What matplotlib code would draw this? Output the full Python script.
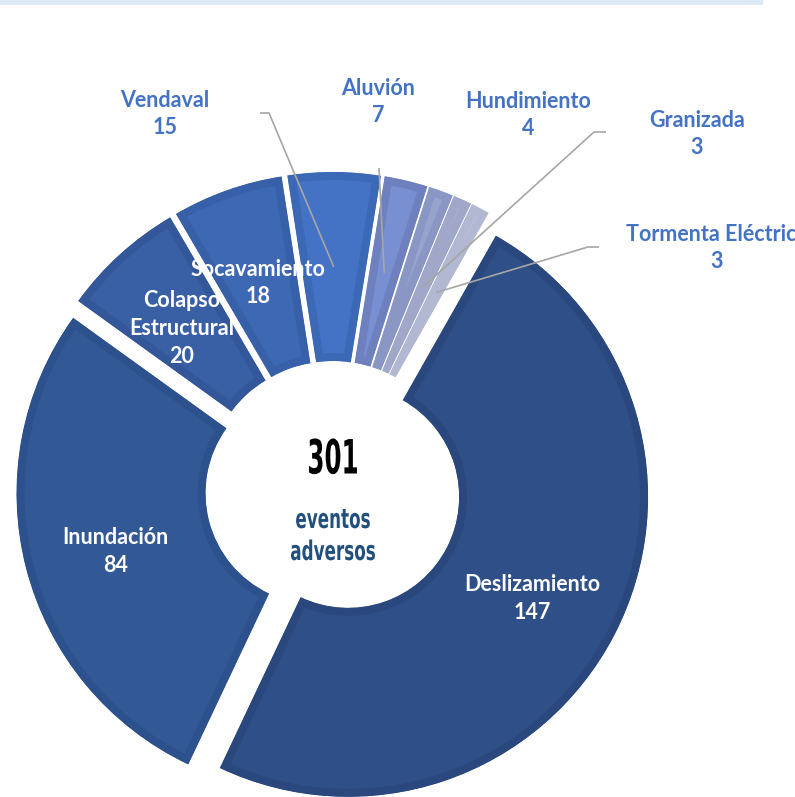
import matplotlib
matplotlib.use("Agg")
import matplotlib.pyplot as plt
import numpy as np
from matplotlib.patches import Rectangle
from matplotlib.patheffects import AbstractPathEffect
from matplotlib.transforms import Affine2D

categories = ["Deslizamiento", "Inundación", "Colapso\nEstructural", "Socavamiento",
              "Vendaval", "Aluvión", "Hundimiento", "Granizada", "Tormenta Eléctrica"]
values = [147, 84, 20, 18, 15, 7, 4, 3, 3]
total_label = "301"
center_caption = "eventos\nadversos"

fill_colors = ["#2E4F87", "#325896", "#3960A5", "#3D68B4", "#4472C4",
               "#788FD2", "#96A3CD", "#A5ACCD", "#B9BED7"]
edge_colors = ["#2A487D", "#2D518C", "#335799", "#3760A8", "#3C69B6",
               "#6E80BE", "#8A96C3", "#A0A7C8", "#B3B8D2"]

W, H = 795, 797
fig = plt.figure(figsize=(W / 100, H / 100), dpi=100)
ax = fig.add_axes([0, 0, 1, 1])

def Y(y):  # image row -> data y
    return H - y

CX, CY = 333, Y(489)
R = 300
ring = 189
expl = 17

wedges, _ = ax.pie(values, radius=R, center=(CX, CY), startangle=60.5,
                   counterclock=False, explode=[expl] * len(values),
                   colors=fill_colors, frame=True,
                   wedgeprops=dict(width=ring))
ax.set_xlim(0, W)
ax.set_ylim(0, H)
ax.set_aspect("equal")
ax.axis("off")

# top light band
ax.add_patch(Rectangle((0, Y(5)), 763, 5, facecolor="#DDEAF6", edgecolor="none"))

bw = 8  # border width px
for w, ec in zip(wedges, edge_colors):
    w.set_edgecolor(ec)
    w.set_linewidth(2 * bw * 0.72)
    w.set_joinstyle("miter")
    w.set_clip_on(True)
    w.set_clip_path(w)

label_font = dict(family=["Lato", "DejaVu Sans"], fontweight="bold", fontsize=15.5)

def mid_point(w, dist):
    th = np.deg2rad((w.theta1 + w.theta2) / 2)
    cx, cy = w.center
    return cx + dist * np.cos(th), cy + dist * np.sin(th)

# inside labels
for i in range(4):
    x, y = mid_point(wedges[i], 208)
    ax.text(x, y - 6, f"{categories[i]}\n{values[i]}", ha="center", va="center",
            color="white", linespacing=1.4, **label_font)

# outside labels with leader lines
out_pos = {4: (165, 114), 5: (378, 102), 6: (528, 115), 7: (697, 134), 8: (717, 248)}
leaders = {4: [(260, 113), (269, 113)], 5: [(379, 168)], 7: [(606, 132), (594, 132)],
           8: [(599, 247), (588, 247)]}
for i, (px, py) in out_pos.items():
    ax.text(px, Y(py), f"{categories[i]}\n{values[i]}", ha="center", va="center",
            color="#4472C4", linespacing=1.4, clip_on=False, **label_font)
for i, pts in leaders.items():
    ex, ey = mid_point(wedges[i], 205)
    xs = [p[0] for p in pts] + [ex]
    ys = [Y(p[1]) for p in pts] + [ey]
    ax.plot(xs, ys, color="#A6A6A6", lw=1.2, solid_capstyle="butt")


class Condense(AbstractPathEffect):
    """Squeeze text horizontally around a fixed data x (to mimic a condensed face)."""
    def __init__(self, xdata, sx):
        super().__init__()
        self.xdata = xdata
        self.sx = sx

    def draw_path(self, renderer, gc, tpath, affine, rgbFace=None):
        xd = ax.transData.transform((self.xdata, 0))[0]
        aff = affine + Affine2D().translate(-xd, 0).scale(self.sx, 1).translate(xd, 0)
        renderer.draw_path(gc, tpath, aff, rgbFace)


cond = dict(family=["DejaVu Sans"], fontweight="bold")
ax.text(CX, Y(461), total_label, ha="center", va="center", color="black",
        fontsize=34, path_effects=[Condense(CX, 0.52)], **cond)
ax.text(CX, Y(537), center_caption, ha="center", va="center", color="#22507E",
        fontsize=19.5, linespacing=1.3, path_effects=[Condense(CX, 0.62)], **cond)

fig.savefig("out.png", dpi=100)
